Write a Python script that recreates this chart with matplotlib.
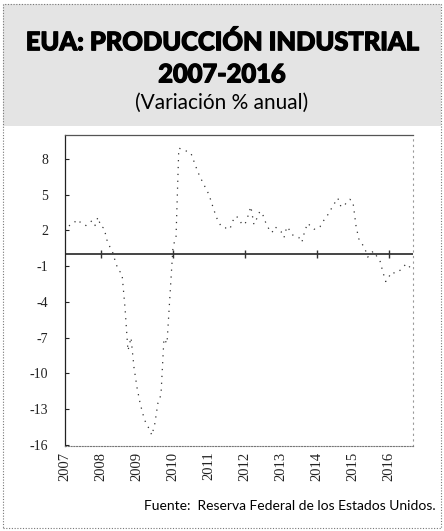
import matplotlib
matplotlib.use("Agg")
import matplotlib.pyplot as plt
import matplotlib.patheffects as pe
from matplotlib.patches import Rectangle
import pandas as pd

# ---- data (monthly, Jan 2007 - Aug 2016), % annual change ----
start_month = "2007-01-01"
values = [
    # 2007
    1.9, 2.3, 2.5, 2.6, 2.9, 2.7, 2.6, 2.4, 2.6, 2.8, 2.4, 3.1,
    # 2008
    2.3, 2.2, 1.2, 0.6, 0.1, -0.8, -1.4, -1.6, -4.5, -8.1, -7.0, -9.5,
    # 2009
    -11.2, -12.5, -13.4, -14.2, -14.6, -15.2, -14.2, -12.5, -11.8, -7.1, -7.5, -3.5,
    # 2010
    0.6, 1.5, 8.9, 8.8, 8.7, 8.6, 8.5, 7.8, 7.1, 6.5, 6.0, 5.5,
    # 2011
    5.0, 4.2, 3.5, 2.8, 2.4, 2.2, 2.2, 2.1, 2.8, 3.2, 3.0, 2.5,
    # 2012
    2.5, 3.2, 4.0, 2.5, 3.0, 3.6, 3.3, 2.6, 2.1, 1.8, 2.3, 2.1,
    # 2013
    1.9, 1.4, 2.3, 2.0, 1.6, 1.5, 1.4, 1.0, 2.0, 2.6, 2.3, 2.1,
    # 2014
    2.1, 2.3, 2.7, 3.1, 3.4, 3.9, 4.3, 4.7, 4.0, 4.0, 4.4, 4.6,
    # 2015
    4.4, 2.4, 1.3, 0.9, 0.5, -0.25, 0.1, 0.25, -0.2, -0.5, -1.5, -2.3,
    # 2016
    -1.9, -1.5, -1.6, -1.5, -1.3, -1.0, -0.8, -1.1,
]
years = list(range(2007, 2017))
year_labels = [str(y) for y in years]
y_ticks = [8, 5, 2, -1, -4, -7, -10, -13, -16]
zero_tick_years = [2008, 2010, 2012, 2014, 2016]

title_1 = "EUA: PRODUCCIÓN INDUSTRIAL"
title_2 = "2007-2016"
subtitle = "(Variación % anual)"
source = "Fuente:  Reserva Federal de los Estados Unidos."

dates = pd.date_range(start_month, periods=len(values), freq="MS")

fig = plt.figure(figsize=(4.44, 5.31), dpi=100)
fig.patch.set_facecolor("white")

# title background (grey halftone in the scan)
fig.patches.append(Rectangle((0.006, 0.762), 0.988, 0.230, transform=fig.transFigure,
                             facecolor="#e4e4e4", edgecolor="none", zorder=0))
# outer dotted frame
fig.patches.append(Rectangle((0.006, 0.006), 0.988, 0.986, transform=fig.transFigure,
                             facecolor="none", edgecolor="#777777", lw=0.8,
                             linestyle=(0, (1, 1.5)), zorder=1))

heavy = [pe.withStroke(linewidth=0.9, foreground="black")]
fig.text(0.5, 0.920, title_1, ha="center", va="center", fontsize=18.3,
         fontweight="black", family=["Lato", "DejaVu Sans"], color="black",
         path_effects=heavy)
fig.text(0.5, 0.859, title_2, ha="center", va="center", fontsize=18.3,
         fontweight="black", family=["Lato", "DejaVu Sans"], color="black",
         path_effects=heavy)
fig.text(0.5, 0.807, subtitle, ha="center", va="center", fontsize=15,
         family=["Lato", "DejaVu Sans"], color="black")
fig.text(0.982, 0.047, source, ha="right", va="center", fontsize=10,
         family=["Lato", "DejaVu Sans"], color="black")

ax = fig.add_axes([0.1464, 0.160, 0.7836, 0.5858])
ax.set_facecolor("white")

ax.plot(dates, values, color="#333333", lw=0.9, linestyle=(0, (1, 4.5)), zorder=3)

ax.axhline(0, color="#444444", lw=1.4, zorder=2)
zero_ticks = [pd.Timestamp(f"{y}-01-01") for y in zero_tick_years]
ax.scatter(zero_ticks, [0] * len(zero_ticks), marker="|", s=40, color="#333333",
           linewidths=1.0, zorder=4)

ax.set_ylim(-16.1, 10)
ax.set_xlim(pd.Timestamp("2007-01-01"), pd.Timestamp("2016-09-01"))
ax.set_yticks(y_ticks)
ax.set_yticklabels([str(v) for v in y_ticks], family=["Liberation Serif"],
                   fontsize=10)
ax.set_xticks([pd.Timestamp(f"{y}-01-01") for y in years])
ax.set_xticklabels(year_labels, rotation=90, family=["Liberation Serif"],
                   fontsize=10.5)
ax.tick_params(axis="y", direction="in", length=3, width=0.8, pad=12, colors="#222222")
ax.tick_params(axis="x", length=0, pad=4, colors="#222222")

ax.spines["left"].set_color("#222222")
ax.spines["left"].set_linewidth(0.9)
ax.spines["left"].set_linestyle((0, (3, 1)))
ax.spines["top"].set_color("#555555")
ax.spines["top"].set_linewidth(0.9)
ax.spines["right"].set_color("#999999")
ax.spines["right"].set_linewidth(0.8)
ax.spines["right"].set_linestyle((0, (1, 4)))
ax.spines["bottom"].set_color("#777777")
ax.spines["bottom"].set_linewidth(0.8)
ax.spines["bottom"].set_linestyle((0, (1, 1.5)))

fig.savefig("out.png", dpi=100)
